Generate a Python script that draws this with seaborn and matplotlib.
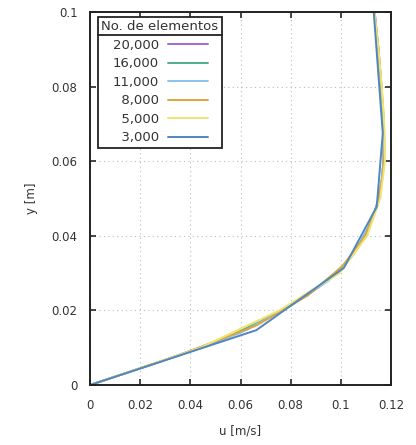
import matplotlib
matplotlib.use("Agg")
import matplotlib.pyplot as plt
import seaborn as sns
import pandas as pd

# ---- data ----
labels = ["20,000", "16,000", "11,000", "8,000", "5,000", "3,000"]
colors = ["#a468d0", "#4fae8a", "#8cc4ec", "#e0a53c", "#eee470", "#4f86c2"]

y_20000 = [0, 0.005, 0.01, 0.015, 0.02, 0.025, 0.03, 0.035, 0.04, 0.045, 0.05, 0.055, 0.06, 0.07, 0.08, 0.09, 0.1]
u_20000 = [0, 0.0225, 0.0445, 0.0630, 0.0760, 0.0885, 0.0985, 0.1050, 0.1095, 0.1128, 0.1150, 0.1163, 0.1170, 0.1170, 0.1162, 0.1150, 0.1135]
y_16000 = [0, 0.006, 0.012, 0.018, 0.024, 0.03, 0.036, 0.042, 0.048, 0.054, 0.06, 0.07, 0.08, 0.09, 0.1]
u_16000 = [0, 0.0268, 0.0520, 0.0710, 0.0865, 0.0985, 0.1058, 0.1108, 0.1143, 0.1162, 0.1170, 0.1169, 0.1161, 0.1149, 0.1134]
y_11000 = [0, 0.007, 0.014, 0.021, 0.028, 0.035, 0.042, 0.049, 0.056, 0.063, 0.07, 0.08, 0.09, 0.1]
u_11000 = [0, 0.0312, 0.0600, 0.0795, 0.0952, 0.1050, 0.1110, 0.1148, 0.1165, 0.1171, 0.1169, 0.1161, 0.1149, 0.1134]
y_8000 = [0, 0.008, 0.016, 0.024, 0.032, 0.04, 0.048, 0.056, 0.064, 0.072, 0.08, 0.09, 0.1]
u_8000 = [0, 0.0355, 0.0665, 0.0868, 0.1008, 0.1098, 0.1145, 0.1167, 0.1174, 0.1171, 0.1162, 0.1150, 0.1134]
y_5000 = [0, 0.01, 0.02, 0.03, 0.04, 0.05, 0.06, 0.07, 0.08, 0.09, 0.1]
u_5000 = [0, 0.0440, 0.0755, 0.0995, 0.1105, 0.1157, 0.1176, 0.1173, 0.1163, 0.1150, 0.1134]
y_3000 = [0, 0.0147, 0.0314, 0.0478, 0.0675, 0.1]
u_3000 = [0, 0.0663, 0.1012, 0.1143, 0.1167, 0.1131]

series_u = [u_20000, u_16000, u_11000, u_8000, u_5000, u_3000]
series_y = [y_20000, y_16000, y_11000, y_8000, y_5000, y_3000]

xticks = [0, 0.02, 0.04, 0.06, 0.08, 0.1, 0.12]
xticklabels = ["0", "0.02", "0.04", "0.06", "0.08", "0.1", "0.12"]
yticks = [0, 0.02, 0.04, 0.06, 0.08, 0.1]
yticklabels = ["0", "0.02", "0.04", "0.06", "0.08", "0.1"]

# ---- style ----
sns.set_theme(style="ticks", rc={"xtick.direction": "in", "ytick.direction": "in"})
plt.rcParams["font.family"] = ["DejaVu Sans"]

fig = plt.figure(figsize=(4.16, 4.45), dpi=100)
ax = fig.add_axes([0.2163, 0.1348, 0.7237, 0.8382])

for lab, col, u, y in zip(labels, colors, series_u, series_y):
    df = pd.DataFrame({"u": u, "y": y})
    sns.lineplot(data=df, x="u", y="y", ax=ax, color=col, lw=1.4,
                 sort=False, estimator=None, label=lab)

ax.set_xlim(0, 0.12)
ax.set_ylim(0, 0.1)
ax.set_xticks(xticks)
ax.set_xticklabels(xticklabels)
ax.set_yticks(yticks)
ax.set_yticklabels(yticklabels)
ax.tick_params(axis="both", which="major", direction="in", length=4, width=1.2,
               top=True, right=True, labelsize=8.5, labelcolor="#333333")
ax.tick_params(axis="x", pad=10)
ax.tick_params(axis="y", pad=9)
ax.grid(True, linestyle=(0, (1, 3)), color="#bbbbbb", lw=0.8)
for s in ax.spines.values():
    s.set_visible(True)
    s.set_color("#222222")
    s.set_linewidth(1.4)

ax.set_xlabel("u [m/s]", fontsize=8.5, color="#333333", labelpad=9)
ax.set_ylabel("y [m]", fontsize=8.5, color="#333333", labelpad=10)

# legend with right-aligned numbers
fs = "\u2007"
leg_labels = [l if len(l) == 6 else fs + l for l in labels]
handles, _ = ax.get_legend_handles_labels()
leg = ax.legend(handles, leg_labels, title="No. de elementos", loc="upper left",
                bbox_to_anchor=(0.027, 0.987), markerfirst=False, frameon=True,
                fancybox=False, edgecolor="#222222", fontsize=9.5, title_fontsize=9.5,
                handlelength=3.0, handletextpad=0.7, labelspacing=0.42,
                borderpad=0.25, borderaxespad=0.0, framealpha=1)
leg.get_frame().set_linewidth(1.3)
leg.get_title().set_color("#333333")
for t in leg.get_texts():
    t.set_color("#333333")

fig.canvas.draw()
bb = leg.get_window_extent()
tb = leg.get_title().get_window_extent()
inv = fig.transFigure.inverted()
(x0, yb), (x1, _) = inv.transform([[bb.x0, tb.y0 - 2], [bb.x1, tb.y0 - 2]])
fig.add_artist(plt.Line2D([x0, x1], [yb, yb], color="#222222", lw=1.3,
                          transform=fig.transFigure, zorder=10))

fig.savefig("out.png", dpi=100)
